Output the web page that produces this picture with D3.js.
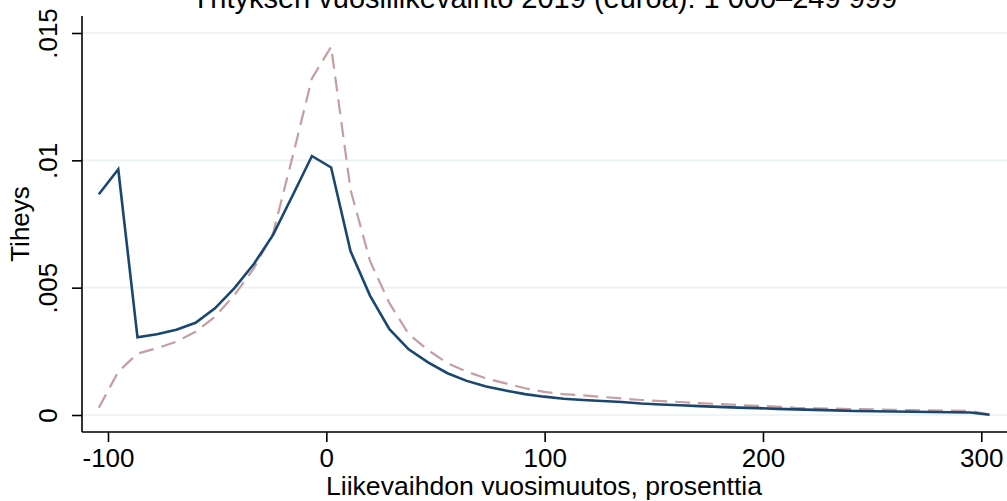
<!DOCTYPE html>
<html><head><meta charset="utf-8">
<script src="https://cdn.jsdelivr.net/npm/d3@7"></script>
<style>body{margin:0;background:#fff}svg{display:block}text{font-family:"Liberation Sans",Arial,sans-serif;fill:#000}</style>
</head><body><svg id="c" width="1007" height="501"></svg>
<script>
const titleText = "Yrityksen vuosiliikevaihto 2019 (euroa): 1 000–249 999";
const xTitle = "Liikevaihdon vuosimuutos, prosenttia";
const yTitle = "Tiheys";
const xTicks = [-100, 0, 100, 200, 300];
const yTicks = [0, 0.005, 0.01, 0.015];
const yTickLabels = ["0", ".005", ".01", ".015"];
const xValues = [-104.2,-95.3,-86.5,-77.6,-68.7,-59.9,-51.0,-42.1,-33.2,-24.4,-15.5,-6.6,2.2,11.1,20.0,28.9,37.7,46.6,55.5,64.3,73.2,82.1,91.0,99.8,108.7,117.6,126.4,135.3,144.2,153.1,161.9,170.8,179.7,188.5,197.4,206.3,215.1,224.0,232.9,241.8,250.6,259.5,268.4,277.2,286.1,295.0,303.8];
const solidDensity = [0.00867,0.00965,0.00305,0.00317,0.00335,0.00362,0.00419,0.00498,0.00593,0.00707,0.00861,0.01017,0.00972,0.00643,0.00469,0.00337,0.00258,0.00207,0.00164,0.00134,0.00112,0.00096,0.00082,0.00072,0.00064,0.00059,0.00055,0.00051,0.00045,0.00041,0.00038,0.00035,0.00032,0.00029,0.00027,0.00024,0.00022,0.00020,0.00018,0.00016,0.00015,0.00014,0.00013,0.00012,0.00011,0.00010,0.00001];
const dashedDensity = [0.00029,0.00170,0.00241,0.00262,0.00288,0.00327,0.00386,0.00471,0.00576,0.00713,0.01013,0.01322,0.01446,0.00884,0.00605,0.00439,0.00318,0.00255,0.00203,0.00170,0.00144,0.00124,0.00105,0.00091,0.00082,0.00077,0.00071,0.00065,0.00059,0.00055,0.00051,0.00047,0.00043,0.00039,0.00036,0.00033,0.00028,0.00026,0.00025,0.00023,0.00022,0.00020,0.00019,0.00018,0.00017,0.00016,0.00002];

const svg = d3.select("#c");
const x = d3.scaleLinear().domain([-100, 300]).range([108, 981.3]);
const y = d3.scaleLinear().domain([0, 0.015]).range([415, 33]);
const pLeft = 82, pRight = 1007, pTop = 16, pBottom = 432;
const fs = 26;

// grid
svg.append("g").selectAll("line").data(yTicks).join("line")
  .attr("x1", pLeft).attr("x2", pRight)
  .attr("y1", d => y(d)).attr("y2", d => y(d))
  .attr("stroke", "#eaf2f3").attr("stroke-width", 1.6);

// lines
const line = arr => d3.line().x((d, i) => x(xValues[i])).y(d => y(d))(arr);
svg.append("path").attr("d", line(dashedDensity)).attr("fill", "none")
  .attr("stroke", "#c69ea1").attr("stroke-width", 2.2).attr("stroke-dasharray", "15,8");
svg.append("path").attr("d", line(solidDensity)).attr("fill", "none")
  .attr("stroke", "#1a476f").attr("stroke-width", 2.6).attr("stroke-linejoin", "miter");

// x axis
const xa = svg.append("g").attr("transform", `translate(0,${pBottom})`)
  .call(d3.axisBottom(x).tickValues(xTicks).tickSize(10).tickPadding(8).tickFormat(d => d));
xa.select(".domain").remove();
xa.append("line").attr("x1", pLeft).attr("x2", pRight).attr("stroke", "#000").attr("stroke-width", 1.6);
xa.selectAll(".tick line").attr("stroke", "#000").attr("stroke-width", 1.6);
xa.selectAll(".tick text").attr("font-size", fs).attr("dy", null).attr("y", 35)
  .attr("font-family", '"Liberation Sans",Arial,sans-serif');

// y axis
const ya = svg.append("g").attr("transform", `translate(${pLeft},0)`)
  .call(d3.axisLeft(y).tickValues(yTicks).tickSize(10).tickFormat((d, i) => yTickLabels[i]));
ya.select(".domain").remove();
ya.append("line").attr("y1", pTop).attr("y2", pBottom).attr("stroke", "#000").attr("stroke-width", 1.6);
ya.selectAll(".tick line").attr("stroke", "#000").attr("stroke-width", 1.6);
ya.selectAll(".tick text").attr("font-size", fs).attr("x", null).attr("dy", null)
  .attr("text-anchor", "middle").attr("transform", "translate(-25,0) rotate(-90)")
  .attr("font-family", '"Liberation Sans",Arial,sans-serif');

// titles
svg.append("text").attr("x", 544).attr("y", 7.5).attr("text-anchor", "middle")
  .attr("font-size", 29).text(titleText);
svg.append("text").attr("x", 544).attr("y", 495).attr("text-anchor", "middle")
  .attr("font-size", 26.6).text(xTitle);
svg.append("text").attr("transform", `translate(29,224) rotate(-90)`).attr("text-anchor", "middle")
  .attr("font-size", fs).text(yTitle);
</script></body></html>
